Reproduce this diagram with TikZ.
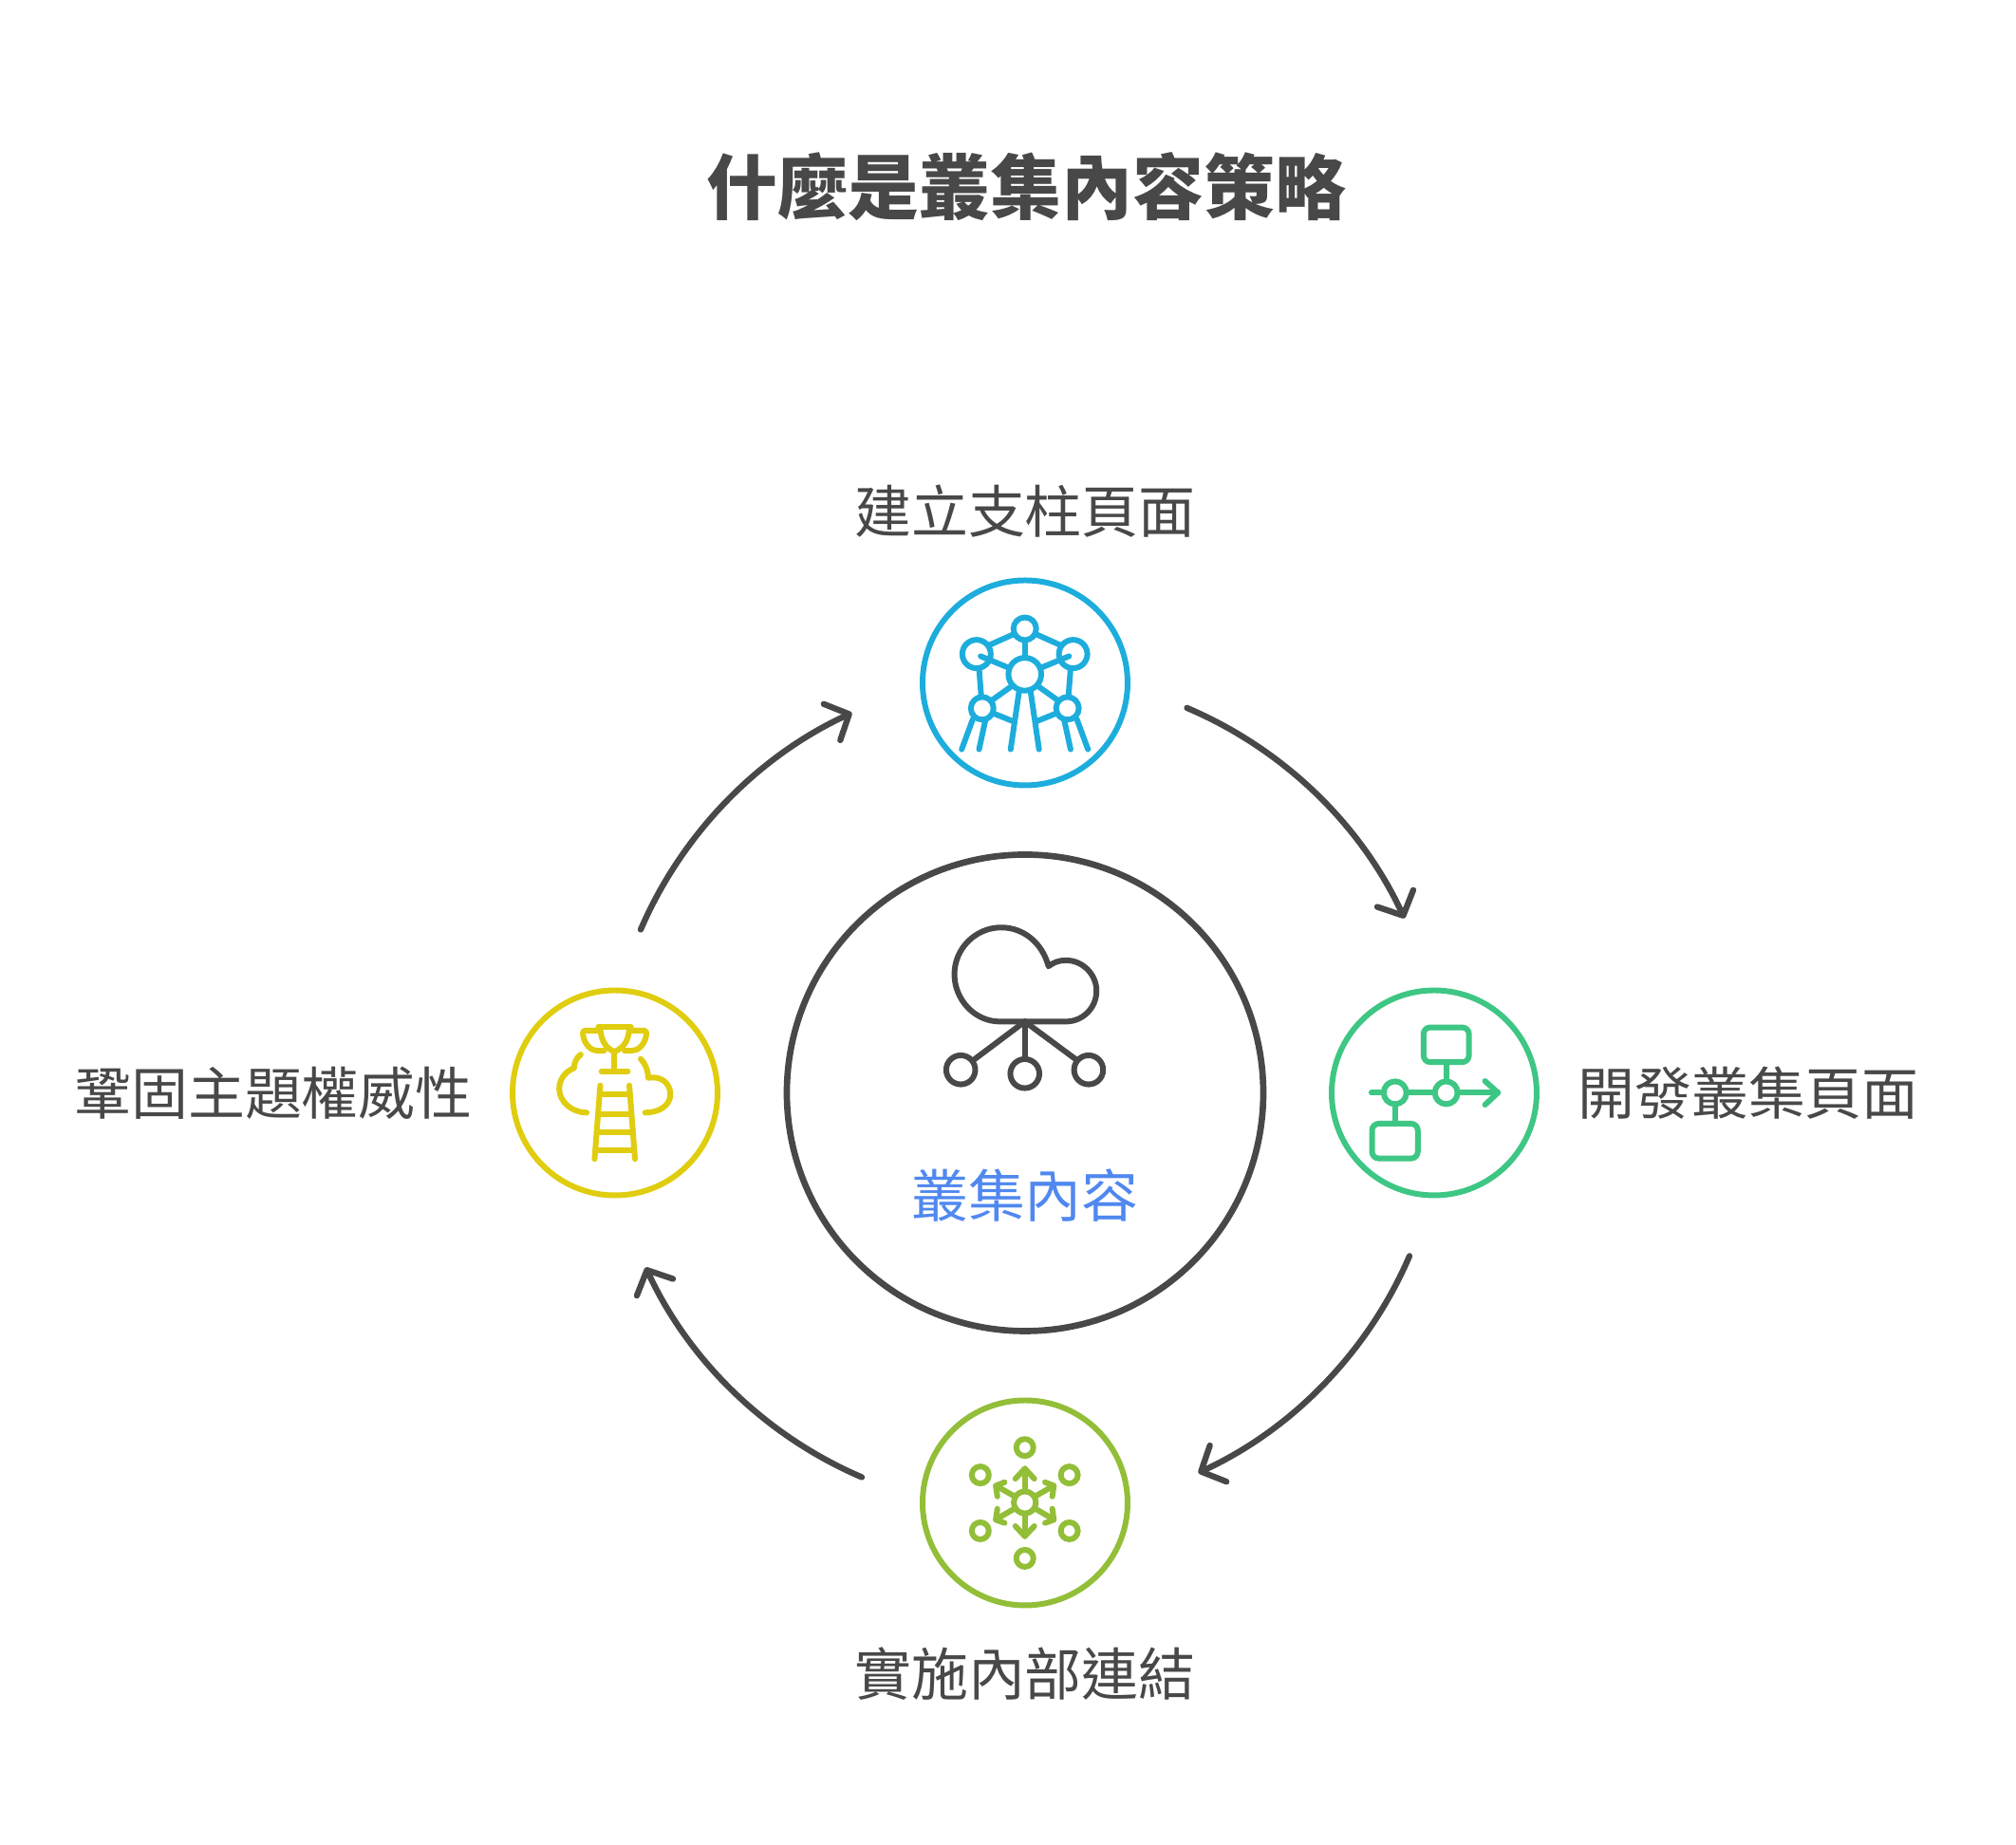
\documentclass[tikz,border=0pt]{standalone}
\usepackage{fontspec}
\setmainfont{Noto Sans CJK TC}
\usepackage{xcolor}
\usetikzlibrary{arrows.meta}
\definecolor{inkgray}{HTML}{484848}
\definecolor{labelblue}{HTML}{5088F0}
\definecolor{iconblue}{HTML}{1DADDD}
\definecolor{icongreen}{HTML}{3EC684}
\definecolor{iconolive}{HTML}{92BE38}
\definecolor{iconyellow}{HTML}{E0CD0F}

\begin{document}
\begin{tikzpicture}[
    ring/.style={circle, draw=#1, line width=1.7pt, fill=white, minimum size=21.6mm, inner sep=0pt},
    steplabel/.style={font=\fontsize{17.05pt}{20pt}\selectfont, color=inkgray, align=center},
    cyclearrow/.style={-{Straight Barb[length=2mm, width=4.2mm, round]}, line width=1.8pt, line cap=round, color=inkgray, bend left=21, looseness=0.88},
    icon/.style={x=0.003333cm, y=-0.003333cm, line width=1.7pt, line cap=round, line join=round, color=#1}
]
\useasboundingbox (-10.8,-7.925) rectangle (10.44,11.515);

\node[font=\fontsize{21.3pt}{25pt}\selectfont\bfseries, color=inkgray] (title) at (0.01,9.55) {什麼是叢集內容策略};

\node[ring=inkgray, line width=1.9pt, minimum size=50.2mm] (core) at (0,0) {};
\node[ring=iconblue] (pillar) at (0,4.32) {};
\node[ring=icongreen] (cluster) at (4.31,0) {};
\node[ring=iconolive] (links) at (0,-4.32) {};
\node[ring=iconyellow] (authority) at (-4.32,0) {};

\node[steplabel] (pillarlabel) at (0,6.13) {建立支柱頁面};
\node[steplabel] (clusterlabel) at (7.62,0) {開發叢集頁面};
\node[steplabel] (linkslabel) at (0,-6.12) {實施內部連結};
\node[steplabel] (authoritylabel) at (-7.92,0) {鞏固主題權威性};
\node[steplabel, color=labelblue] (corelabel) at (0,-1.08) {叢集內容};

% Cycle arrows
\coordinate (pillarout) at (67.2:4.4);
\coordinate (clusterin) at (24.7:4.4);
\coordinate (clusterout) at (-23:4.4);
\coordinate (linksin) at (-65.5:4.4);
\coordinate (linksout) at (-113:4.4);
\coordinate (authorityin) at (-155.3:4.4);
\coordinate (authorityout) at (157:4.4);
\coordinate (pillarin) at (114.5:4.4);

\draw[cyclearrow] (pillarout) to (clusterin);
\draw[cyclearrow] (clusterout) to (linksin);
\draw[cyclearrow] (linksout) to (authorityin);
\draw[cyclearrow] (authorityout) to (pillarin);

% Cloud icon
\begin{scope}[shift={(-1.2,2.015)}, icon=inkgray]
\draw (280,380) -- (490,380) .. controls (543,380) and (587,337) .. (587,283)
    .. controls (587,230) and (543,186) .. (490,186)
    .. controls (468,186) and (450,193) .. (435,205)
    .. controls (415,130) and (355,82) .. (285,82)
    .. controls (205,82) and (137,148) .. (137,230)
    .. controls (137,312) and (203,380) .. (280,380) -- cycle;
\draw (157,533) circle[radius=46];
\draw (360,545) circle[radius=46];
\draw (562,533) circle[radius=46];
\draw (360,380) -- (200,500);
\draw (360,380) -- (360,497);
\draw (360,380) -- (522,500);
\end{scope}

% Tower icon
\begin{scope}[shift={(-1.2,5.515)}, icon=iconblue]
\draw (360,188) circle[radius=36];
\draw (207,268) circle[radius=45];
\draw (513,268) circle[radius=45];
\draw (360,332) circle[radius=52];
\draw (225,440) circle[radius=36];
\draw (495,440) circle[radius=36];
\draw (325,205) -- (247,240);
\draw (395,205) -- (473,240);
\draw (360,225) -- (360,280);
\draw (305,310) -- (220,275);
\draw (415,310) -- (500,275);
\draw (215,313) -- (222,404);
\draw (505,313) -- (498,404);
\draw (318,370) -- (255,415);
\draw (402,370) -- (465,415);
\draw (342,385) -- (315,570);
\draw (378,385) -- (405,570);
\draw (258,455) -- (320,480);
\draw (462,455) -- (400,480);
\draw (195,475) -- (160,570);
\draw (235,478) -- (215,570);
\draw (485,478) -- (505,570);
\draw (525,475) -- (560,570);
\end{scope}

% Flow icon
\begin{scope}[shift={(3.1,1.215)}, icon=icongreen]
\draw[rounded corners=2pt] (330,158) rectangle (474,268);
\draw[rounded corners=2pt] (167,463) rectangle (312,573);
\draw (240,365) circle[radius=36];
\draw (402,365) circle[radius=36];
\draw (165,365) -- (204,365);
\draw (276,365) -- (366,365);
\draw (438,365) -- (566,365);
\draw (525,328) -- (566,365) -- (525,403);
\draw (402,268) -- (402,329);
\draw (240,401) -- (240,463);
\end{scope}

% Hub icon
\begin{scope}[shift={(-1.2,-3.135)}, icon=iconolive]
\draw (360,181) circle[radius=27];
\draw (219,268) circle[radius=27];
\draw (501,268) circle[radius=27];
\draw (219,445) circle[radius=27];
\draw (501,445) circle[radius=27];
\draw (360,532) circle[radius=27];
\draw (360,355) circle[radius=35];
\draw (360,320) -- (360,248);
\draw (330,280) -- (360,248) -- (390,280);
\draw (360,390) -- (360,462);
\draw (330,430) -- (360,462) -- (390,430);
\draw (390,337) -- (450,303);
\draw (424,291) -- (452,302) -- (447,336);
\draw (330,337) -- (270,303);
\draw (296,291) -- (268,302) -- (273,336);
\draw (390,373) -- (450,408);
\draw (447,375) -- (452,410) -- (424,420);
\draw (330,373) -- (270,408);
\draw (273,375) -- (268,410) -- (296,420);
\end{scope}

% Trophy icon
\begin{scope}[shift={(-5.5,1.215)}, icon=iconyellow]
\draw (302,157) -- (405,157);
\draw (308,160) .. controls (310,205) and (330,225) .. (352,235) .. controls (378,225) and (398,205) .. (400,160);
\draw (300,168) -- (262,168) .. controls (252,168) and (252,176) .. (254,186) .. controls (260,215) and (280,232) .. (300,232) -- (320,232);
\draw (408,168) -- (445,168) .. controls (455,168) and (455,176) .. (453,186) .. controls (447,215) and (427,232) .. (407,232) -- (385,232);
\draw (352,235) -- (352,297);
\draw (312,297) -- (395,297);
\draw (246,244) .. controls (232,255) and (225,270) .. (225,287) .. controls (195,298) and (178,325) .. (178,352) .. controls (178,395) and (220,428) .. (265,428);
\draw (436,258) .. controls (450,272) and (458,290) .. (460,318) .. controls (500,310) and (530,335) .. (530,370) .. controls (530,405) and (495,428) .. (450,428);
\draw (308,342) -- (290,575);
\draw (400,342) -- (418,575);
\draw (306,370) -- (402,370);
\draw (301,432) -- (407,432);
\draw (297,490) -- (411,490);
\draw (292,548) -- (416,548);
\end{scope}

\end{tikzpicture}
\end{document}
